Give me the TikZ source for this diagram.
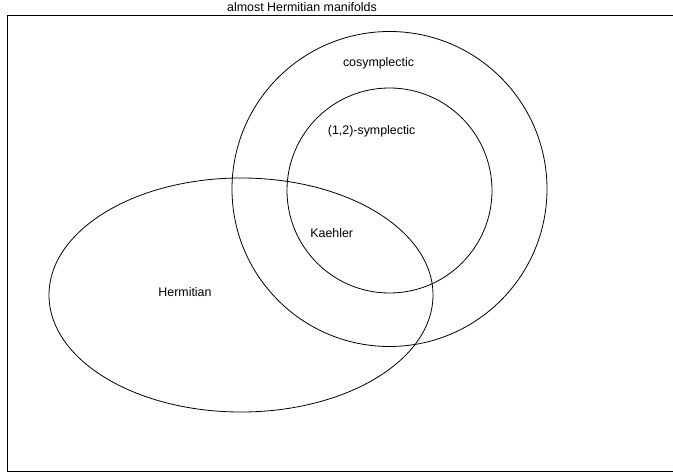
\documentclass[tikz,border=0pt]{standalone}
\usepackage{fontspec}
\setmainfont{Liberation Sans}
\usetikzlibrary{shapes.geometric}
\begin{document}
\begin{tikzpicture}[x=1bp,y=-1bp,
  setline/.style={draw=black, line width=0.8bp, inner sep=0pt, outer sep=0pt},
  lbl/.style={font=\fontsize{12.4bp}{14bp}\selectfont, inner sep=0pt}]
\useasboundingbox (0,0) rectangle (673,475);
\draw[line width=0.9bp] (680,15) -- (7.5,15) -- (7.5,471) -- (680,471);
\node[lbl] (title) at (302,7) {almost Hermitian manifolds};
\node[setline, circle, minimum size=315bp] (cosym) at (389.5,189) {};
\node[setline, circle, minimum size=205bp] (sympl) at (389.5,190.5) {};
\node[setline, ellipse, minimum width=384bp, minimum height=234bp] (herm) at (241,295) {};
\node[lbl] (lcos) at (378.5,63) {cosymplectic};
\node[lbl] (lsym) at (371.7,131.7) {(1,2)-symplectic};
\node[lbl] (lkae) at (331.7,233) {Kaehler};
\node[lbl] (lher) at (185,291.7) {Hermitian};
\end{tikzpicture}
\end{document}
